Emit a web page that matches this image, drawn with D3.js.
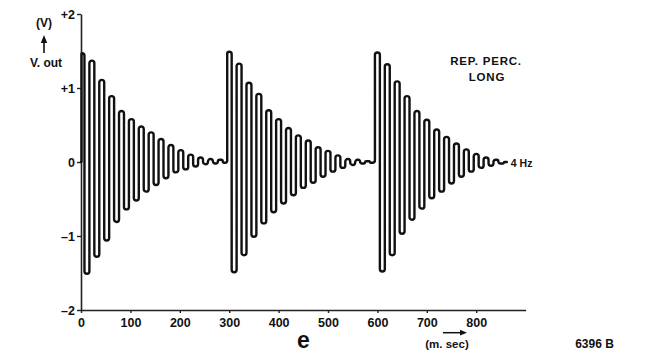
<!DOCTYPE html>
<html>
<head>
<meta charset="utf-8">
<script src="https://cdn.jsdelivr.net/npm/d3@7"></script>
<style>
  html, body { margin: 0; padding: 0; background: #fff; }
  svg { display: block; }
  text { font-family: "Liberation Sans", Arial, sans-serif; font-weight: bold; fill: #111; }
</style>
</head>
<body>
<svg id="chart" width="666" height="352"></svg>
<script>
// Repeat percussion, long decay: V.out vs time (ms)
const xTicks = [0, 100, 200, 300, 400, 500, 600, 700, 800];
const yTicks = [-2, -1, 0, 1, 2];
const yTickLabels = ["\u20132", "\u20131", "0", "+1", "+2"];

// start time (ms) of each struck burst
const burstStarts = [2, 300, 600];
// times of the crests and troughs inside one burst (ms after its start)
const peakOffsets   = [0, 20, 40, 60, 80, 100, 120, 140, 160, 180, 200, 220, 240, 260, 280];
const troughOffsets = [10, 30, 50, 70, 90, 110, 130, 150, 170, 190, 210, 230, 250, 270, 290];

// crest and trough voltages of each burst (V)
const burst1Peaks   = [1.47, 1.37, 1.11, 0.89, 0.69, 0.58, 0.48, 0.40, 0.31, 0.23, 0.16, 0.10, 0.06, 0.04, 0.03];
const burst1Troughs = [-1.51, -1.28, -1.06, -0.81, -0.64, -0.52, -0.40, -0.31, -0.22, -0.14, -0.10, -0.06, -0.03, -0.02, -0.01];
const burst2Peaks   = [1.49, 1.33, 1.07, 0.92, 0.70, 0.58, 0.46, 0.36, 0.29, 0.20, 0.15, 0.09, 0.04, 0.03, 0.01];
const burst2Troughs = [-1.49, -1.26, -1.01, -0.83, -0.68, -0.56, -0.45, -0.35, -0.28, -0.20, -0.13, -0.08, -0.04, -0.02, -0.01];
const burst3Peaks   = [1.48, 1.32, 1.09, 0.89, 0.69, 0.57, 0.44, 0.34, 0.25, 0.17, 0.11, 0.06, 0.03];
const burst3Troughs = [-1.48, -1.26, -0.97, -0.78, -0.63, -0.49, -0.40, -0.29, -0.20, -0.13, -0.08, -0.05, -0.02];

const leadIn = { t: 0, v: 0 };
const tailOut = { t: 862, v: 0 };

const bursts = [
  { peaks: burst1Peaks, troughs: burst1Troughs },
  { peaks: burst2Peaks, troughs: burst2Troughs },
  { peaks: burst3Peaks, troughs: burst3Troughs }
];

// ordered list of extrema for the trace
const trace = [leadIn];
bursts.forEach((b, i) => {
  b.peaks.forEach((v, k) => {
    trace.push({ t: burstStarts[i] + peakOffsets[k], v });
    if (k < b.troughs.length) trace.push({ t: burstStarts[i] + troughOffsets[k], v: b.troughs[k] });
  });
});
trace.push(tailOut);

const svg = d3.select("#chart");
const x = d3.scaleLinear().domain([0, 900]).range([81, 525.6]);
const y = d3.scaleLinear().domain([-2, 2]).range([310, 14]);

// Curve that joins successive extrema with a vertical stroke and round shoulders,
// the way a fast-swept scope trace looks.
function RoundStep(context) { this._context = context; }
RoundStep.prototype = {
  areaStart() { this._line = 0; },
  areaEnd() { this._line = NaN; },
  lineStart() { this._x = this._y = NaN; this._point = 0; },
  lineEnd() {
    if (this._line || (this._line !== 0 && this._point === 1)) this._context.closePath();
    this._line = 1 - this._line;
  },
  point(px, py) {
    px = +px; py = +py;
    if (this._point === 0) {
      this._point = 1;
      this._line ? this._context.lineTo(px, py) : this._context.moveTo(px, py);
    } else {
      this._point = 2;
      const x0 = this._x, y0 = this._y;
      const dy = py - y0;
      const xm = (x0 + px) / 2;
      const r = Math.min(Math.abs(px - x0) / 2, Math.abs(dy) / 2);
      if (r <= 0.01) {
        this._context.lineTo(px, py);
      } else {
        this._context.arcTo(xm, y0, xm, py, r);
        this._context.arcTo(xm, py, px, py, r);
        this._context.lineTo(px, py);
      }
    }
    this._x = px; this._y = py;
  }
};
const curveRoundStep = ctx => new RoundStep(ctx);

// axes
const xAxis = d3.axisBottom(x).tickValues(xTicks).tickSize(3).tickSizeOuter(0).tickPadding(5);
const yAxis = d3.axisLeft(y).tickValues(yTicks).tickSize(4).tickSizeOuter(0).tickPadding(2)
  .tickFormat((d, i) => yTickLabels[i]);

const gx = svg.append("g").attr("transform", `translate(0,${y(-2)})`).call(xAxis);
const gy = svg.append("g").attr("transform", `translate(${x(0)},0)`).call(yAxis);
[gx, gy].forEach(g => {
  g.select(".domain").attr("stroke", "#222").attr("stroke-width", 1.6);
  g.selectAll(".tick line").attr("stroke", "#222").attr("stroke-width", 1.4);
  g.selectAll(".tick text").style("font-size", "12.5px").attr("fill", "#111")
    .style("font-family", "'Liberation Sans', Arial, sans-serif").style("font-weight", "bold");
});

// waveform
const line = d3.line().x(d => x(d.t)).y(d => y(d.v)).curve(curveRoundStep);
svg.append("path")
  .datum(trace)
  .attr("d", line)
  .attr("fill", "none")
  .attr("stroke", "#111")
  .attr("stroke-width", 2.4)
  .attr("stroke-linejoin", "round")
  .attr("stroke-linecap", "round");

// frequency tag at the end of the trace
svg.append("text").attr("x", x(tailOut.t) + 4).attr("y", y(0) + 4.5)
  .style("font-size", "10.5px").text("4 Hz");

// y-axis caption
svg.append("text").attr("x", 44).attr("y", 27).attr("text-anchor", "middle")
  .style("font-size", "12px").text("(V)");
svg.append("line").attr("x1", 44).attr("x2", 44).attr("y1", 53).attr("y2", 41)
  .attr("stroke", "#111").attr("stroke-width", 1.6);
svg.append("path").attr("d", "M44,35 L40.8,43 L47.2,43 Z").attr("fill", "#111");
svg.append("text").attr("x", 46).attr("y", 67).attr("text-anchor", "middle")
  .style("font-size", "12px").text("V. out");

// mode legend
svg.append("text").attr("x", 486).attr("y", 64.5).attr("text-anchor", "middle")
  .style("font-size", "11.5px").style("letter-spacing", "0.8px").text("REP. PERC.");
svg.append("text").attr("x", 487).attr("y", 81).attr("text-anchor", "middle")
  .style("font-size", "11.5px").style("letter-spacing", "0.8px").text("LONG");

// panel letter and time unit
svg.append("text").attr("x", 303.5).attr("y", 348).attr("text-anchor", "middle")
  .style("font-size", "23px").text("e");
svg.append("line").attr("x1", 443).attr("x2", 461).attr("y1", 332.7).attr("y2", 332.7)
  .attr("stroke", "#111").attr("stroke-width", 1.5);
svg.append("path").attr("d", "M467,332.7 L460,329.8 L460,335.6 Z").attr("fill", "#111");
svg.append("text").attr("x", 447).attr("y", 348.3).attr("text-anchor", "middle")
  .style("font-size", "11.5px").text("(m. sec)");
svg.append("text").attr("x", 594.5).attr("y", 348.3).attr("text-anchor", "middle")
  .style("font-size", "12px").text("6396 B");
</script>
</body>
</html>
